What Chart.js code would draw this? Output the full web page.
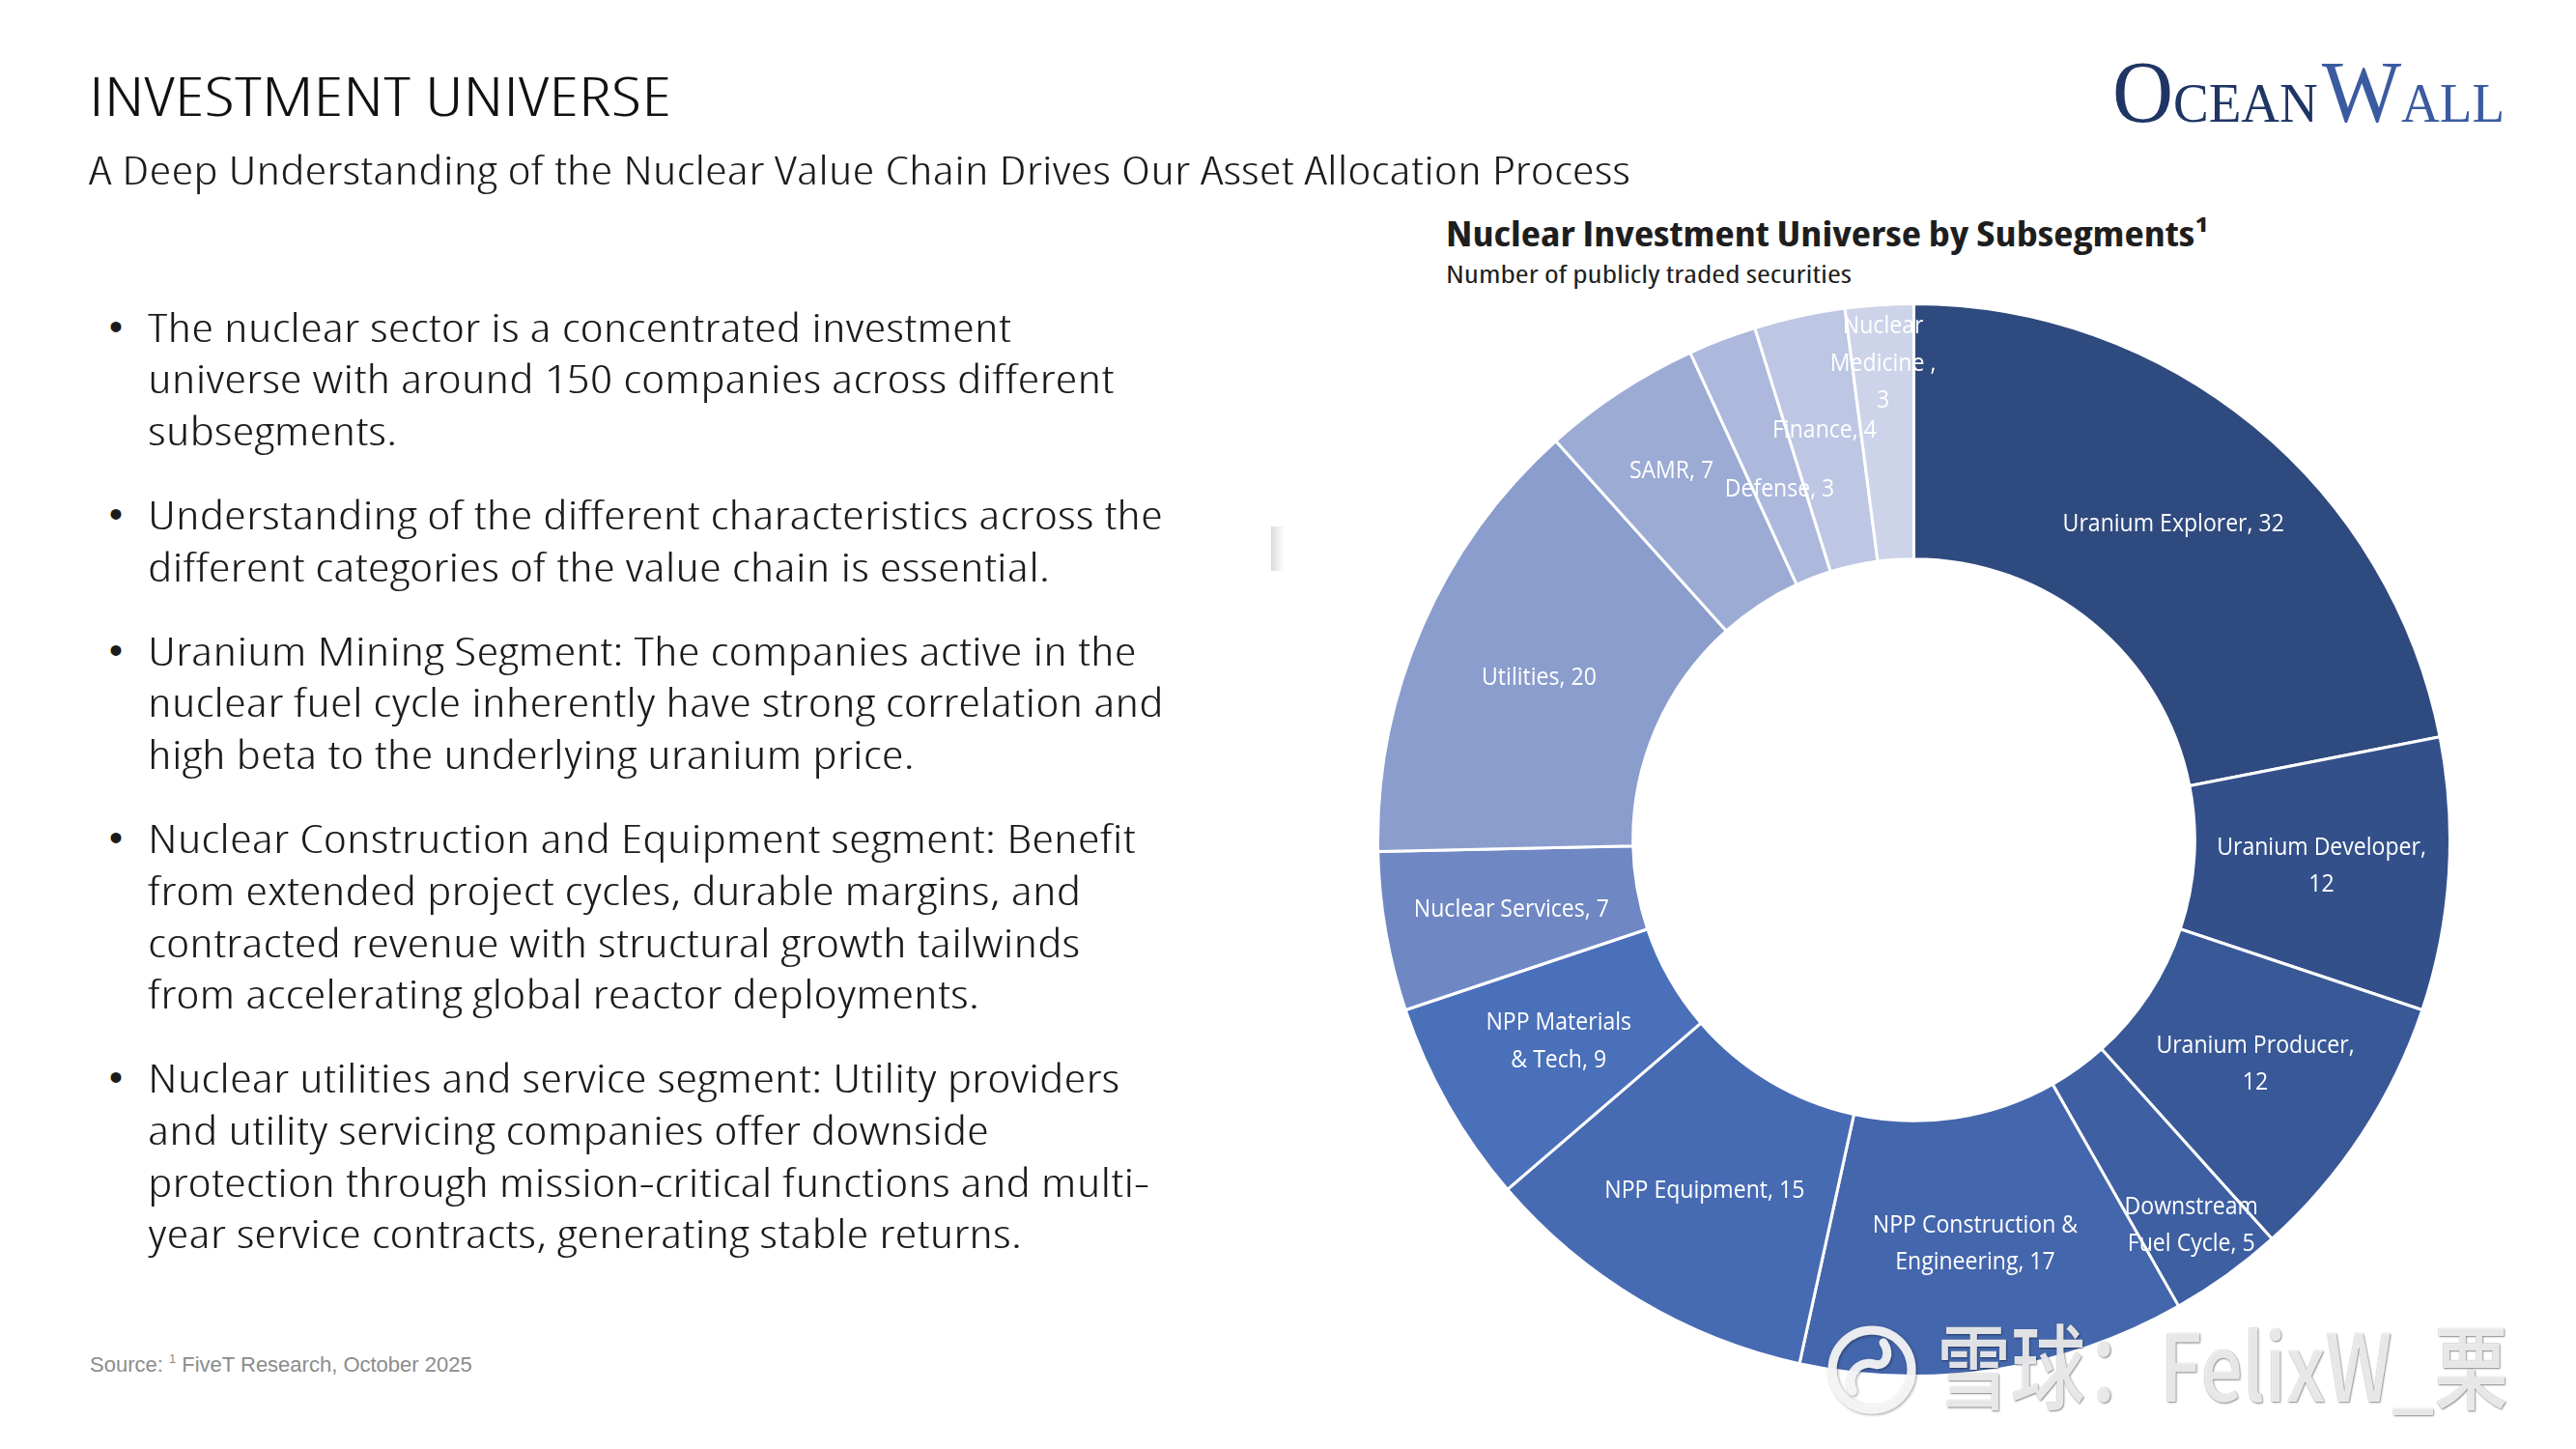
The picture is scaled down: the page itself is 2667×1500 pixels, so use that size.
<!DOCTYPE html>
<html>
<head>
<meta charset="utf-8">
<script src="https://cdn.jsdelivr.net/npm/chart.js@4.4.1/dist/chart.umd.min.js"></script>
<style>
html,body{margin:0;padding:0;background:#fff;}
body{width:2667px;height:1500px;position:relative;overflow:hidden;font-family:'Open Sans',sans-serif;color:#1b1b1b;}
.abs{position:absolute;white-space:nowrap;}
.fit{display:inline-block;transform-origin:0 0;white-space:nowrap;}
#title{left:92px;top:70px;font-size:56px;line-height:56px;font-weight:300;color:#111;font-stretch:80%;}
#subtitle{left:92px;top:156px;font-size:40px;line-height:40px;font-weight:300;color:#1b1b1b;font-stretch:80%;}
#ctitle{left:1497px;top:224px;font-size:35px;line-height:35px;font-weight:700;color:#1e1e1e;font-stretch:80%;}
#csub{left:1497px;top:270px;font-size:26px;line-height:26px;font-weight:400;color:#1e1e1e;font-stretch:80%;}
#body{left:113px;top:311.6px;font-size:40px;font-weight:300;color:#1b1b1b;}
.para{position:relative;margin-bottom:33px;}
.bul{position:absolute;left:0;top:0;line-height:53.7px;font-size:40px;font-family:'Liberation Sans',sans-serif;}
.lines{margin-left:40px;display:inline-block;transform-origin:0 0;font-stretch:80%;}
.lines div{line-height:53.7px;white-space:nowrap;}
#source{left:93px;top:1402px;font-family:'Liberation Sans',Arial,sans-serif;font-size:22px;line-height:22px;color:#8c8c8c;}
#source sup{font-size:13px;vertical-align:9px;line-height:0;}
#logo{left:2187px;top:40px;font-family:'Liberation Serif','Times New Roman',serif;line-height:110px;}
#logo .big{font-size:92px;}
#logo .sm{font-size:58px;}
#logo .o{color:#1f3564;}
#logo .w{color:#3b5ba1;}
#chart{position:absolute;left:1425px;top:313px;width:1113px;height:1113px;}
#smudge{left:1316px;top:545px;width:14px;height:46px;background:linear-gradient(to right,rgba(190,190,190,0.55),rgba(255,255,255,0));}
#wmicon{left:1888px;top:1368px;width:100px;height:100px;}
#wmtext{left:2005px;top:1362px;font-family:'Noto Sans CJK SC',sans-serif;font-size:96px;line-height:96px;font-weight:500;color:rgba(246,246,246,0.9);text-shadow:1px 1px 2px rgba(0,0,0,0.45),0 0 1px rgba(0,0,0,0.35);}
</style>
</head>
<body>
<div id="title" class="abs"><span class="fit" data-w="603">INVESTMENT UNIVERSE</span></div>
<div id="subtitle" class="abs"><span class="fit" data-w="1596">A Deep Understanding of the Nuclear Value Chain Drives Our Asset Allocation Process</span></div>
<div id="ctitle" class="abs"><span class="fit" data-w="790">Nuclear Investment Universe by Subsegments¹</span></div>
<div id="csub" class="abs"><span class="fit" data-w="420">Number of publicly traded securities</span></div>

<div id="body" class="abs"></div>

<div id="smudge" class="abs"></div>

<div id="logo" class="abs"><span class="fit" data-w="406"><span class="o"><span class="big">O</span><span class="sm">CEAN</span></span>&nbsp;<span class="w"><span class="big">W</span><span class="sm">ALL</span></span></span></div>

<canvas id="chart" width="1113" height="1113"></canvas>

<div id="source" class="abs">Source: <sup>1</sup> FiveT Research, October 2025</div>

<svg id="wmicon" class="abs" viewBox="0 0 100 100">
  <defs><filter id="sh" x="-20%" y="-20%" width="140%" height="140%"><feDropShadow dx="1" dy="1" stdDeviation="1.5" flood-color="#000" flood-opacity="0.45"/></filter></defs>
  <g filter="url(#sh)" fill="none" stroke="rgba(246,246,246,0.92)" stroke-linecap="round">
    <circle cx="50" cy="50" r="41" stroke-width="9"/>
    <path d="M30 72 C 22 52, 40 40, 52 44 C 64 48, 70 34, 62 22" stroke-width="9"/>
  </g>
</svg>
<div id="wmtext" class="abs"><span class="fit" data-w="592">雪球：FelixW_栗</span></div>

<script>
// ---- Data ----
const categories = ['Uranium Explorer','Uranium Developer','Uranium Producer','Downstream Fuel Cycle','NPP Construction & Engineering','NPP Equipment','NPP Materials & Tech','Nuclear Services','Utilities','SAMR','Defense','Finance','Nuclear Medicine'];
const counts = [32,12,12,5,17,15,9,7,20,7,3,4,3];
const labelTemplates = [
  ['{n}, {v}'],
  ['{n},','{v}'],
  ['{n},','{v}'],
  ['Downstream','Fuel Cycle, {v}'],
  ['NPP Construction &','Engineering, {v}'],
  ['{n}, {v}'],
  ['NPP Materials','& Tech, {v}'],
  ['{n}, {v}'],
  ['{n}, {v}'],
  ['{n}, {v}'],
  ['{n}, {v}'],
  ['{n}, {v}'],
  ['Nuclear','Medicine ,','{v}']
];
const bullets = [
  ['The nuclear sector is a concentrated investment','universe with around 150 companies across different','subsegments.'],
  ['Understanding of the different characteristics across the','different categories of the value chain is essential.'],
  ['Uranium Mining Segment: The companies active in the','nuclear fuel cycle inherently have strong correlation and','high beta to the underlying uranium price.'],
  ['Nuclear Construction and Equipment segment: Benefit','from extended project cycles, durable margins, and','contracted revenue with structural growth tailwinds','from accelerating global reactor deployments.'],
  ['Nuclear utilities and service segment: Utility providers','and utility servicing companies offer downside','protection through mission-critical functions and multi-','year service contracts, generating stable returns.']
];

// ---- Styles ----
const palette = ['#2f4a7e','#33508a','#395898','#3e5fa2','#4466ac','#476bb3','#4a70ba','#6f88c3','#8a9dcd','#9cabd4','#acb8dc','#bdc6e3','#cdd3e9'];
const labelRadiusFrac = [0.5,0.5,0.5,0.76,0.5,0.5,0.5,0.5,0.5,0.63,0.37,0.54,0.77];

// build bullet text
const bodyEl = document.getElementById('body');
bullets.forEach(lines => {
  const p = document.createElement('div'); p.className = 'para';
  const b = document.createElement('span'); b.className = 'bul'; b.textContent = '•'; p.appendChild(b);
  const l = document.createElement('div'); l.className = 'lines';
  lines.forEach(t => { const d = document.createElement('div'); d.textContent = t; l.appendChild(d); });
  p.appendChild(l); bodyEl.appendChild(p);
});

// fit widths of text to reference
document.querySelectorAll('.fit').forEach(el => {
  const w = el.getBoundingClientRect().width;
  const target = parseFloat(el.dataset.w);
  if (w > 0) el.style.transform = 'scaleX(' + (target / w) + ')';
});
// body: scale from a reference line
(function(){
  const ref = bodyEl.querySelectorAll('.lines')[1].children[0];
  const r = document.createElement('span'); r.textContent = ref.textContent;
  r.style.whiteSpace = 'nowrap';
  ref.textContent = ''; ref.appendChild(r);
  const w = r.getBoundingClientRect().width;
  const s = 1051 / w;
  bodyEl.querySelectorAll('.lines').forEach(l => l.style.transform = 'scaleX(' + s + ')');
})();

const labelPlugin = {
  id: 'arcLabels',
  afterDatasetsDraw(chart) {
    const ctx = chart.ctx;
    const meta = chart.getDatasetMeta(0);
    ctx.save();
    ctx.font = "400 26px 'Open Sans', sans-serif";
    const sx = 202 / ctx.measureText('Nuclear Services, 7').width;
    ctx.fillStyle = '#ffffff';
    ctx.textAlign = 'center';
    ctx.textBaseline = 'middle';
    meta.data.forEach((arc, i) => {
      const p = arc.getProps(['x','y','startAngle','endAngle','innerRadius','outerRadius'], true);
      const mid = (p.startAngle + p.endAngle) / 2;
      const r = p.innerRadius + labelRadiusFrac[i] * (p.outerRadius - p.innerRadius);
      const cx = p.x + Math.cos(mid) * r;
      const cy = p.y + Math.sin(mid) * r;
      const lines = labelTemplates[i].map(t => t.replace('{n}', categories[i]).replace('{v}', counts[i]));
      const lh = 38.5;
      lines.forEach((t, k) => {
        const yy = cy + (k - (lines.length - 1) / 2) * lh;
        ctx.save();
        ctx.translate(cx, yy);
        ctx.scale(sx, 1);
        ctx.fillText(t, 0, 0);
        ctx.restore();
      });
    });
    ctx.restore();
  }
};

new Chart(document.getElementById('chart'), {
  type: 'doughnut',
  data: {
    labels: categories,
    datasets: [{
      data: counts,
      backgroundColor: palette,
      borderColor: '#ffffff',
      borderWidth: 3,
      hoverOffset: 0
    }]
  },
  options: {
    responsive: false,
    animation: false,
    cutout: '52.4%',
    layout: { padding: 0 },
    plugins: { legend: { display: false }, tooltip: { enabled: false } },
    events: []
  },
  plugins: [labelPlugin]
});
</script>
</body>
</html>
